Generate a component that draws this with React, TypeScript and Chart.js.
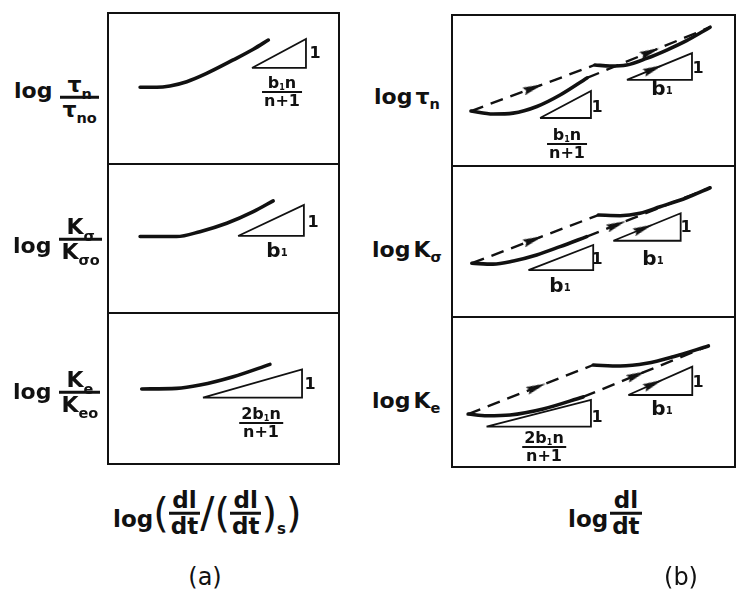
import React, { useEffect, useRef } from "react";
import { Chart, registerables } from "chart.js";

Chart.register(...registerables);

// ---------- (a) normalised quantities against log((dl/dt)/(dl/dt)s) ----------
const aTauX = [1.39, 2.11, 2.68, 3.41, 4.27, 5.42, 6.29, 6.94];
const aTauY = [5.08, 5.08, 5.17, 5.45, 6.0, 6.89, 7.6, 8.21];
const aTauSlope = [6.23, 8.57, 6.36, 8.28]; // [x start, x end, base y, top y]

const aKsX = [1.39, 2.2, 2.97, 3.98, 5.14, 6.29, 7.15];
const aKsY = [5.13, 5.13, 5.13, 5.46, 6.02, 6.8, 7.53];
const aKsSlope = [5.63, 8.48, 5.17, 7.25];

const aKeX = [1.46, 2.97, 3.98, 5.42, 7.01];
const aKeY = [4.97, 5.01, 5.23, 5.78, 6.6];
const aKeSlope = [4.11, 8.4, 4.39, 6.27];

// ---------- (b) lower / upper branches against log(dl/dt) ----------
const bTauLowX = [0.67, 1.45, 2.16, 3.0, 3.82, 4.77];
const bTauLowY = [3.64, 3.44, 3.5, 3.94, 4.7, 5.83];
const bTauHighX = [5.05, 5.58, 6.17, 6.88, 7.59, 8.29, 9.12];
const bTauHighY = [6.69, 6.62, 6.69, 7.13, 7.68, 8.3, 9.19];
const bTauJumpArrowX = [2.87, 7.0];
const bTauSlopes = [
  [3.11, 4.91, 3.18, 4.97],
  [6.18, 8.48, 5.7, 7.48],
];
const bTauSlopeArrowX = [7.11];

const bKsLowX = [0.7, 1.45, 2.17, 2.99, 3.82, 4.76];
const bKsLowY = [3.56, 3.5, 3.71, 4.11, 4.66, 5.32];
const bKsHighX = [5.17, 5.94, 6.64, 7.35, 8.29, 9.12];
const bKsHighY = [6.75, 6.71, 6.87, 7.3, 7.9, 8.56];
const bKsJumpArrowX = [2.87, 5.82];
const bKsSlopes = [
  [2.7, 4.99, 3.11, 4.77],
  [5.7, 8.08, 5.05, 6.87],
];
const bKsSlopeArrowX = [6.76];

const bKeLowX = [0.57, 1.24, 2.05, 3.22, 4.63];
const bKeLowY = [3.53, 3.42, 3.47, 3.87, 4.67];
const bKeHighX = [4.99, 5.94, 6.88, 7.82, 9.06];
const bKeHighY = [6.8, 6.73, 6.91, 7.35, 8.07];
const bKeJumpArrowX = [2.99, 6.53];
const bKeSlopes = [
  [1.22, 4.91, 2.69, 4.47],
  [6.23, 8.49, 4.8, 6.69],
];
const bKeSlopeArrowX = [7.11];

// ---------- helpers ----------
const INK = "#111";
const FONT = '"DejaVu Sans", "Liberation Sans", sans-serif';

type Pt = { x: number; y: number };
type Arrow = Pt & { from: Pt; to: Pt };
type PanelData = { curves: Pt[][]; jumps: Pt[][]; slopes: number[][]; arrows: Arrow[] };

const zip = (xs: number[], ys: number[]): Pt[] => xs.map((x, i) => ({ x, y: ys[i] }));

const triangle = ([x0, x1, y0, y1]: number[]): Pt[] => [
  { x: x0, y: y0 },
  { x: x1, y: y0 },
  { x: x1, y: y1 },
  { x: x0, y: y0 },
];

const onSegment = (from: Pt, to: Pt, x: number): Arrow => ({
  x,
  y: from.y + ((to.y - from.y) * (x - from.x)) / (to.x - from.x),
  from,
  to,
});

function normPanel(xs: number[], ys: number[], slope: number[]): PanelData {
  return { curves: [zip(xs, ys)], jumps: [], slopes: [slope], arrows: [] };
}

function branchPanel(
  lx: number[], ly: number[], hx: number[], hy: number[],
  jumpArrowX: number[], slopes: number[][], slopeArrowX: number[]
): PanelData {
  const low = zip(lx, ly);
  const high = zip(hx, hy);
  const jumps = [
    [low[0], high[0]],
    [low[low.length - 1], high[high.length - 1]],
  ];
  const arrows = jumpArrowX.map((x, i) => onSegment(jumps[i][0], jumps[i][1], x));
  const s = slopes[slopes.length - 1];
  slopeArrowX.forEach((x) => arrows.push(onSegment({ x: s[0], y: s[2] }, { x: s[1], y: s[3] }, x)));
  return { curves: [low, high], jumps, slopes, arrows };
}

const A_TAU = normPanel(aTauX, aTauY, aTauSlope);
const A_KS = normPanel(aKsX, aKsY, aKsSlope);
const A_KE = normPanel(aKeX, aKeY, aKeSlope);
const B_TAU = branchPanel(bTauLowX, bTauLowY, bTauHighX, bTauHighY, bTauJumpArrowX, bTauSlopes, bTauSlopeArrowX);
const B_KS = branchPanel(bKsLowX, bKsLowY, bKsHighX, bKsHighY, bKsJumpArrowX, bKsSlopes, bKsSlopeArrowX);
const B_KE = branchPanel(bKeLowX, bKeLowY, bKeHighX, bKeHighY, bKeJumpArrowX, bKeSlopes, bKeSlopeArrowX);

// slender filled arrow head, pointing along +x
function makeArrowHead(): HTMLCanvasElement {
  const c = document.createElement("canvas");
  c.width = 20;
  c.height = 10;
  const g = c.getContext("2d")!;
  g.fillStyle = INK;
  g.beginPath();
  g.moveTo(20, 5);
  g.lineTo(0, 1);
  g.lineTo(2.5, 5);
  g.lineTo(0, 9);
  g.closePath();
  g.fill();
  return c;
}

const framePlugin = {
  id: "frame",
  afterDraw(chart: any) {
    const { ctx, chartArea: a } = chart;
    ctx.save();
    ctx.strokeStyle = INK;
    ctx.lineWidth = 2;
    ctx.strokeRect(a.left, a.top, a.right - a.left, a.bottom - a.top);
    ctx.restore();
  },
};

function Panel({ box, data }: { box: number[]; data: PanelData }) {
  const ref = useRef<HTMLCanvasElement>(null);
  const [x0, y0, x1, y1] = box;
  const w = x1 - x0 + 2;
  const h = y1 - y0 + 2;

  useEffect(() => {
    const head = makeArrowHead();
    const datasets: any[] = [
      ...data.curves.map((d) => ({
        type: "line",
        data: d,
        borderColor: INK,
        borderWidth: 3.6,
        borderCapStyle: "round",
        pointRadius: 0,
        cubicInterpolationMode: "monotone",
      })),
      ...data.jumps.map((d) => ({
        type: "line",
        data: d,
        borderColor: INK,
        borderWidth: 2.4,
        borderDash: [13, 8],
        pointRadius: 0,
      })),
      ...data.slopes.map((s) => ({
        type: "line",
        data: triangle(s),
        borderColor: INK,
        borderWidth: 1.8,
        borderJoinStyle: "miter",
        pointRadius: 0,
        tension: 0,
      })),
    ];
    if (data.arrows.length) {
      datasets.push({
        type: "scatter",
        data: data.arrows,
        pointStyle: head,
        pointRadius: 1,
        pointHoverRadius: 1,
        borderWidth: 0,
        pointRotation: (c: any) => {
          const r = c.raw as Arrow | undefined;
          if (!r || !r.from) return 0;
          const sx = c.chart.scales.x;
          const sy = c.chart.scales.y;
          const dx = sx.getPixelForValue(r.to.x) - sx.getPixelForValue(r.from.x);
          const dy = sy.getPixelForValue(r.to.y) - sy.getPixelForValue(r.from.y);
          return (Math.atan2(dy, dx) * 180) / Math.PI;
        },
      });
    }
    const chart = new Chart(ref.current!, {
      type: "line",
      data: { datasets },
      options: {
        animation: false,
        responsive: false,
        events: [],
        layout: { padding: 1, autoPadding: false },
        plugins: { legend: { display: false }, tooltip: { enabled: false } },
        scales: {
          x: { type: "linear", min: 0, max: 10, display: false },
          y: { type: "linear", min: 0, max: 10, display: false },
        },
      },
      plugins: [framePlugin],
    } as any);
    return () => chart.destroy();
  }, [data]);

  return (
    <canvas
      ref={ref}
      width={w}
      height={h}
      style={{ position: "absolute", left: x0 - 1, top: y0 - 1, width: w, height: h }}
    />
  );
}

// ---------- text pieces ----------
function At({
  x, y, size = 22, align = "left", weight = 700, children,
}: { x: number; y: number; size?: number; align?: string; weight?: number; children: React.ReactNode }) {
  const tx = align === "center" ? "-50%" : align === "right" ? "-100%" : "0";
  return (
    <div
      style={{
        position: "absolute",
        left: x,
        top: y,
        transform: `translate(${tx}, -50%)`,
        fontSize: size,
        lineHeight: `${size}px`,
        fontWeight: weight,
        display: "flex",
        alignItems: "center",
        whiteSpace: "nowrap",
      }}
    >
      {children}
    </div>
  );
}

const Sub = ({ children, s = 0.66, dy = 0.45 }: { children: React.ReactNode; s?: number; dy?: number }) => (
  <span style={{ fontSize: `${s}em`, position: "relative", top: `${dy}em`, lineHeight: 0 }}>{children}</span>
);

function Frac({
  num, den, size, bar = 2.5, pad = 2,
}: { num: React.ReactNode; den: React.ReactNode; size: number; bar?: number; pad?: number }) {
  return (
    <span
      style={{
        display: "inline-flex",
        flexDirection: "column",
        alignItems: "stretch",
        fontSize: size,
        lineHeight: `${size}px`,
      }}
    >
      <span style={{ textAlign: "center", padding: `0 ${pad}px` }}>{num}</span>
      <span style={{ height: bar, background: INK }} />
      <span style={{ textAlign: "center", padding: `0 ${pad}px` }}>{den}</span>
    </span>
  );
}

const Log = ({ dy = 0, mr = 8 }: { dy?: number; mr?: number }) => (
  <span style={{ position: "relative", top: dy, marginRight: mr }}>log</span>
);

const Paren = ({ ch, size = 40 }: { ch: string; size?: number }) => (
  <span style={{ fontSize: size, lineHeight: `${size}px`, fontWeight: 400 }}>{ch}</span>
);

const B1 = () => (
  <>
    b<Sub s={0.5} dy={0.3}>1</Sub>
  </>
);

const SlopeFrac = ({ two }: { two?: boolean }) => (
  <Frac
    size={16}
    bar={2}
    num={
      <>
        {two ? "2" : ""}
        <B1 />n
      </>
    }
    den="n+1"
  />
);

export default function App() {
  return (
    <div
      style={{
        position: "fixed",
        left: 0,
        top: 0,
        width: 737,
        height: 595,
        background: "#fff",
        color: INK,
        fontFamily: FONT,
        overflow: "hidden",
      }}
    >
      {/* (a) */}
      <Panel box={[108, 13, 339, 164]} data={A_TAU} />
      <Panel box={[108, 164, 339, 313]} data={A_KS} />
      <Panel box={[108, 313, 339, 464]} data={A_KE} />
      {/* (b) */}
      <Panel box={[452, 15, 735, 166]} data={B_TAU} />
      <Panel box={[452, 166, 735, 317]} data={B_KS} />
      <Panel box={[452, 317, 735, 467]} data={B_KE} />

      {/* y labels, (a) */}
      <At x={14} y={97}>
        <Log dy={-6} />
        <Frac size={22} num={<>τ<Sub>n</Sub></>} den={<>τ<Sub>no</Sub></>} />
      </At>
      <At x={13} y={239}>
        <Log dy={7} />
        <Frac size={22} num={<>K<Sub>σ</Sub></>} den={<>K<Sub>σo</Sub></>} />
      </At>
      <At x={13} y={392}>
        <Log dy={0} />
        <Frac size={22} num={<>K<Sub>e</Sub></>} den={<>K<Sub>eo</Sub></>} />
      </At>

      {/* y labels, (b) */}
      <At x={374} y={97}>
        <Log mr={3} />τ<Sub>n</Sub>
      </At>
      <At x={372} y={250}>
        <Log mr={3} />K<Sub>σ</Sub>
      </At>
      <At x={372} y={401}>
        <Log mr={3} />K<Sub>e</Sub>
      </At>

      {/* slope annotations, (a) */}
      <At x={315} y={53} size={16} align="center">1</At>
      <At x={282} y={92} align="center"><SlopeFrac /></At>
      <At x={313} y={222} size={16} align="center">1</At>
      <At x={277} y={250} size={20} align="center"><B1 /></At>
      <At x={310} y={384} size={16} align="center">1</At>
      <At x={261} y={423} align="center"><SlopeFrac two /></At>

      {/* slope annotations, (b) */}
      <At x={597} y={107} size={16} align="center">1</At>
      <At x={567} y={144} align="center"><SlopeFrac /></At>
      <At x={698} y={68} size={16} align="center">1</At>
      <At x={662} y={88} size={20} align="center"><B1 /></At>

      <At x={597} y={259} size={16} align="center">1</At>
      <At x={560} y={285} size={20} align="center"><B1 /></At>
      <At x={686} y={227} size={16} align="center">1</At>
      <At x={653} y={258} size={20} align="center"><B1 /></At>

      <At x={597} y={417} size={16} align="center">1</At>
      <At x={544} y={447} align="center"><SlopeFrac two /></At>
      <At x={698} y={382} size={16} align="center">1</At>
      <At x={662} y={408} size={20} align="center"><B1 /></At>

      {/* x labels */}
      <At x={113} y={513} size={23}>
        <Log mr={0} dy={6} />
        <Paren ch="(" />
        <Frac size={23} num="dl" den="dt" />
        <Paren ch="/" size={42} />
        <Paren ch="(" />
        <Frac size={23} num="dl" den="dt" />
        <Paren ch=")" />
        <span style={{ fontSize: 15, position: "relative", top: 16 }}>s</span>
        <Paren ch=")" />
      </At>
      <At x={568} y={513} size={23}>
        <Log mr={2} dy={6} />
        <Frac size={23} num="dl" den="dt" />
      </At>

      <At x={205} y={577} size={24} weight={400} align="center">(a)</At>
      <At x={681} y={577} size={24} weight={400} align="center">(b)</At>
    </div>
  );
}
